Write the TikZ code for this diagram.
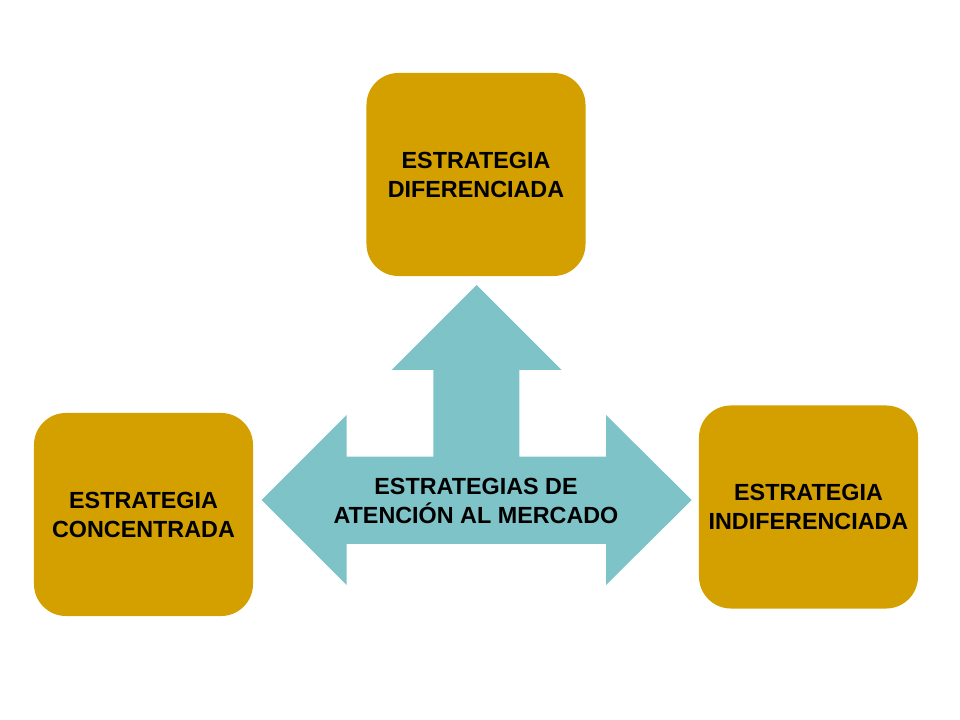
\documentclass[tikz,border=0pt]{standalone}
\usepackage{fontspec}
\setmainfont{Liberation Sans}
\usepackage{xcolor}
\definecolor{oro}{RGB}{212,160,0}
\definecolor{turquesa}{RGB}{126,195,200}

\begin{document}
\begin{tikzpicture}[x=0.025cm,y=-0.025cm,
  caja/.style={fill=oro,rounded corners=0.8cm,minimum width=5.475cm,minimum height=5.075cm,align=center,font=\bfseries\fontsize{16.6}{20.6}\selectfont},
  rotulo/.style={align=center,font=\bfseries\fontsize{16.6}{20}\selectfont}]
\useasboundingbox (0,0) rectangle (960,720);
\fill[turquesa] (261.7,500) -- (346.7,415) -- (346.7,456.7) -- (433.3,456.7) -- (433.3,370) -- (391.7,370) -- (476.7,285) -- (561.7,370) -- (519.3,370) -- (519.3,456.7) -- (606,456.7) -- (606,415) -- (691.7,500) -- (606,585) -- (606,544) -- (346.7,544) -- (346.7,585) -- cycle;
\node[caja] (diferenciada) at (476,174.5) {ESTRATEGIA\\DIFERENCIADA};
\node[caja] (concentrada) at (143.5,514.5) {ESTRATEGIA\\CONCENTRADA};
\node[caja] (indiferenciada) at (808.5,507) {ESTRATEGIA\\INDIFERENCIADA};
\node[rotulo] (atencion) at (476,501) {ESTRATEGIAS DE\\ATENCIÓN AL MERCADO};
\end{tikzpicture}
\end{document}
